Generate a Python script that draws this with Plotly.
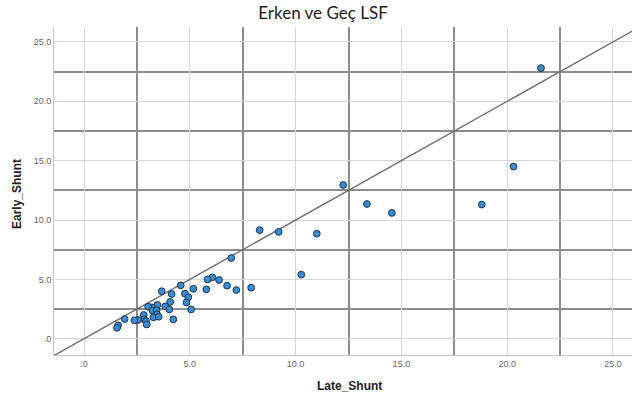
import plotly.graph_objects as go

# Early vs late shunt values (one point per patient)
late_shunt = [21.6, 20.3, 18.8, 14.55, 13.37, 12.25, 11.0, 9.2, 8.3, 10.27,
              6.96, 7.9, 7.2, 6.76, 6.38, 6.06, 5.84, 5.78, 5.17, 4.57,
              4.77, 4.93, 4.84, 5.06, 4.22, 4.07, 4.14, 3.67, 3.84, 4.03,
              3.47, 3.21, 3.03, 3.24, 3.43, 3.45, 3.28, 3.53, 2.82, 2.84,
              2.93, 2.96, 2.55, 2.38, 1.92, 1.61, 1.56]
early_shunt = [22.8, 14.5, 11.3, 10.6, 11.35, 12.95, 8.85, 9.0, 9.15, 5.4,
               6.8, 4.3, 4.1, 4.47, 4.95, 5.17, 5.0, 4.16, 4.21, 4.5,
               3.8, 3.5, 3.05, 2.47, 1.63, 3.1, 3.77, 4.0, 2.73, 2.47,
               2.85, 2.64, 2.7, 2.36, 2.39, 2.05, 1.8, 1.85, 2.0, 1.63,
               1.49, 1.2, 1.58, 1.55, 1.66, 1.13, 0.92]

tick_vals = [0, 5, 10, 15, 20, 25]
tick_text = [".0", "5.0", "10.0", "15.0", "20.0", "25.0"]
mid_vals = [2.5, 7.5, 12.5, 17.5, 22.5]

x_range = [-1.42, 25.9]
y_range = [-1.37, 26.26]

W, H = 632, 397
ML, MR, MT, MB = 54, 0, 27, 42

fig = go.Figure()

# identity reference line y = x
ref = [-2, 30]
fig.add_trace(go.Scatter(
    x=ref, y=ref, mode="lines",
    line=dict(color="#6f6f6f", width=1.4),
    hoverinfo="skip", showlegend=False,
))

fig.add_trace(go.Scatter(
    x=late_shunt, y=early_shunt, mode="markers",
    marker=dict(size=6.8, color="#3a8cd0",
                line=dict(color="#1d3550", width=1)),
    showlegend=False,
))

axis_common = dict(
    tickmode="array", tickvals=tick_vals, ticktext=tick_text,
    showgrid=True, gridcolor="#d6d6d6", gridwidth=1.2,
    zeroline=False, showline=True, linecolor="#c4c4c4", linewidth=1,
    ticks="", tickfont=dict(family="Liberation Sans, Arial", size=9, color="#666666"),
    minor=dict(tickmode="array", tickvals=mid_vals, showgrid=True,
               gridcolor="#8d8d8d", gridwidth=2, ticks=""),
    fixedrange=True,
)

fig.update_xaxes(range=x_range, **axis_common)
fig.update_yaxes(range=y_range, **axis_common)


def px_to_paper(px, py):
    return (px - ML) / (W - ML - MR), (H - MB - py) / (H - MB - MT)


tx, ty = px_to_paper(349, 386)
fig.add_annotation(text="<b>Late_Shunt</b>", x=tx, y=ty, xref="paper", yref="paper",
                   showarrow=False, xanchor="center", yanchor="middle",
                   font=dict(family="Liberation Sans, Arial", size=12, color="#222222"))
ax, ay = px_to_paper(17, 194)
fig.add_annotation(text="<b>Early_Shunt</b>", x=ax, y=ay, xref="paper", yref="paper",
                   showarrow=False, xanchor="center", yanchor="middle", textangle=-90,
                   font=dict(family="Liberation Sans, Arial", size=12, color="#222222"))

fig.update_layout(
    width=W, height=H,
    margin=dict(l=ML, r=MR, t=MT, b=MB),
    paper_bgcolor="white", plot_bgcolor="white",
    title=dict(text="Erken ve Geç LSF", x=323 / W, xanchor="center",
               y=1 - 13 / H, yanchor="middle",
               font=dict(family="Lato", size=17, color="#1e1e1e")),
)

fig.write_html("out.html")
